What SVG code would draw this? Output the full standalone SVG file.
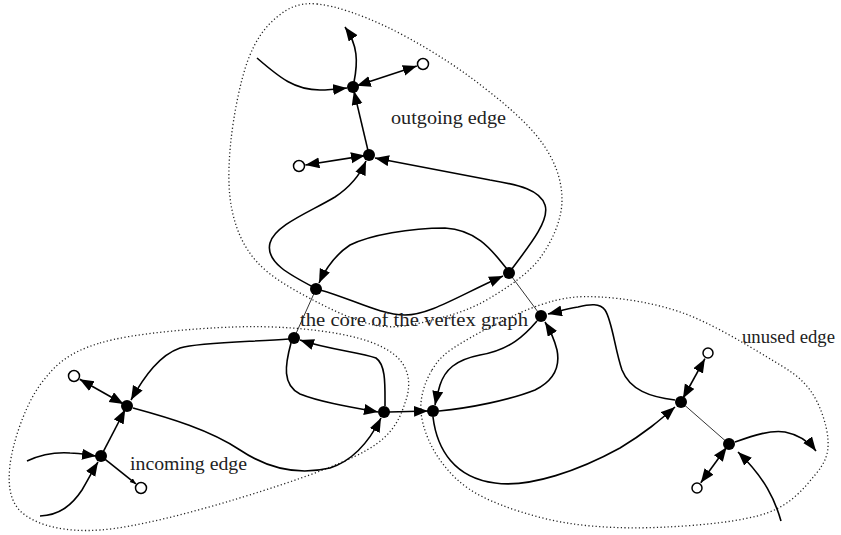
<svg xmlns="http://www.w3.org/2000/svg" width="841" height="535" viewBox="0 0 841 535">
<style>
.e{fill:none;stroke:#000;stroke-width:1.6;marker-end:url(#ah)}
.d{fill:none;stroke:#000;stroke-width:1.6;marker-start:url(#ah);marker-end:url(#ah)}
.t{fill:none;stroke:#000;stroke-width:0.8}
.blob{fill:none;stroke:#222;stroke-width:1.3;stroke-dasharray:1.2 2.4}
.n{fill:#000}
.o{fill:#fff;stroke:#000;stroke-width:1.5}
.lbl{font-family:"Liberation Serif","Times New Roman",serif;font-size:19.5px;fill:#222}
</style>
<defs>
<marker id="ah" markerUnits="userSpaceOnUse" markerWidth="15" markerHeight="12" refX="14" refY="5.5" orient="auto-start-reverse"><path d="M0,0 L14,5.5 L0,11 z" fill="#000"/></marker>
<marker id="sm" markerUnits="userSpaceOnUse" markerWidth="7" markerHeight="6" refX="6" refY="2.5" orient="auto"><path d="M0,0 L6,2.5 L0,5 z" fill="#000"/></marker>
</defs>
<g id="blobs">
<path class="blob" d="M317,4 C335.3,5.7 361.5,14.8 387,27 C412.5,39.2 444.5,58.2 470,77 C495.5,95.8 524.7,119.5 540,140 C555.3,160.5 562,180.3 562,200 C562,219.7 552,241.7 540,258 C528,274.3 506.7,288 490,298 C473.3,308 458.3,313.3 440,318 C421.7,322.7 401.2,329 380,326 C358.8,323 333.5,310.7 313,300 C292.5,289.3 270.5,277 257,262 C243.5,247 236.3,230.3 232,210 C227.7,189.7 228.3,165 231,140 C233.7,115 240.3,80.5 248,60 C255.7,39.5 265.5,26.3 277,17 C288.5,7.7 298.7,2.3 317,4 Z"/>
<path class="blob" d="M100,343 C132.2,333.3 193,328.5 233,327 C273,325.5 312.5,328.8 340,334 C367.5,339.2 387,347 398,358 C409,369 411.2,384.7 406,400 C400.8,415.3 395.8,433.3 367,450 C338.2,466.7 277.5,486.7 233,500 C188.5,513.3 134.7,527.5 100,530 C65.3,532.5 40,525.8 25,515 C10,504.2 7.5,486.7 10,465 C12.5,443.3 25,405.3 40,385 C55,364.7 67.8,352.7 100,343 Z"/>
<path class="blob" d="M432,370 C439,358.3 445,352.8 463,342 C481,331.2 517.2,312.5 540,305 C562.8,297.5 576.2,295.7 600,297 C623.8,298.3 655.2,303 683,313 C710.8,323 745.8,344.2 767,357 C788.2,369.8 799.8,376.2 810,390 C820.2,403.8 827.2,425.8 828,440 C828.8,454.2 825.2,462.8 815,475 C804.8,487.2 791.7,504.3 767,513 C742.3,521.7 700.3,525.3 667,527 C633.7,528.7 597.7,528 567,523 C536.3,518 504.2,507.5 483,497 C461.8,486.5 450.3,474.2 440,460 C429.7,445.8 422.3,427 421,412 C419.7,397 425,381.7 432,370 Z"/>
</g>
<g id="connectors">
<path class="e" d="M257,58 C280,78 295,90 320,90 C330,90 338,89 347,88"/>
<path class="e" d="M354,82 C358,62 358,45 345,27"/>
<path class="d" d="M356.8,85.8 L416.8,66"/>
<path class="e" d="M367.9,150.1 L353.9,90.9"/>
<path class="d" d="M365,155.6 L305.4,165"/>
<path class="e" d="M511,270 C530,245 550,220 545,205 C540,190 520,185 490,180 C450,172 410,165 375,158"/>
<path class="e" d="M315,288 C290,275 265,262 270,243 C275,225 310,212 335,197 C350,187 360,175 366,161"/>
<path class="e" d="M320,290 C350,298 380,315 405,315 C430,315 460,295 503,276"/>
<path class="e" d="M507,269 C495,255 480,230 445,228 C410,228 370,235 350,245 C335,255 325,270 319,283"/>
<path class="t" d="M316,289 L294,338"/>
<path class="t" d="M509,273 L541,316"/>
<path class="e" d="M289,339 C250,342 200,342 180,348 C160,355 145,375 131,400"/>
<path class="e" d="M291,343 C285,365 282,385 300,394 C320,402 350,407 378,412"/>
<path class="e" d="M385,406 C385,385 386,365 376,358 C360,352 330,350 300,340"/>
<path class="e" d="M133,408 C170,418 210,430 240,450 C270,470 300,475 330,468 C355,460 370,440 381,418"/>
<path class="d" d="M123.5,404 L79.7,379.2"/>
<path class="e" d="M103.3,451.6 L125.2,409.5"/>
<path class="e" d="M27,461 C40,455 55,452 70,453 C80,453 88,455 96,456"/>
<path class="e" d="M40,516 C60,515 72,505 82,490 C88,480 93,470 98,462"/>
<path fill="none" stroke="#000" stroke-width="1.6" marker-end="url(#sm)" d="M104.9,459.1 L135.9,483.9"/>
<path class="e" d="M389,412 L428,411"/>
<path class="e" d="M537,321 C525,335 510,350 480,355 C455,360 445,370 440,385 C437,395 436,400 435,405"/>
<path class="e" d="M439,411 C470,408 510,400 535,390 C555,380 560,365 557,350 C554,338 550,330 545,322"/>
<path class="e" d="M675,400 C650,397 630,390 622,370 C615,350 612,320 605,310 C600,303 590,304 578,307 C565,309 557,312 548,314"/>
<path class="e" d="M433,417 C437,450 455,478 495,483 C530,488 580,470 620,448 C645,433 660,420 675,407"/>
<path class="d" d="M682.9,398.5 L704.9,358.7"/>
<path class="t" d="M681,402 L729,444"/>
<path class="d" d="M726.6,447.2 L700.8,482.7"/>
<path class="e" d="M735,442 C755,435 770,430 785,432 C800,435 810,443 816,451"/>
<path class="e" d="M781,521 C775,500 765,478 738,452"/>
</g>
<g id="nodes">
<g id="A"><circle class="n" cx="353" cy="87" r="6"/></g>
<g id="B"><circle class="n" cx="369" cy="155" r="6"/></g>
<g id="C1"><circle class="n" cx="316" cy="289" r="6"/></g>
<g id="C2"><circle class="n" cx="509" cy="273" r="6"/></g>
<g id="D"><circle class="n" cx="294" cy="338" r="6"/></g>
<g id="E"><circle class="n" cx="384" cy="412" r="6"/></g>
<g id="F"><circle class="n" cx="127" cy="406" r="6"/></g>
<g id="G"><circle class="n" cx="101" cy="456" r="6"/></g>
<g id="H"><circle class="n" cx="433" cy="411" r="6"/></g>
<g id="I"><circle class="n" cx="541" cy="316" r="6"/></g>
<g id="J"><circle class="n" cx="681" cy="402" r="6"/></g>
<g id="K"><circle class="n" cx="729" cy="444" r="6"/></g>
<g id="oA"><circle class="o" cx="423" cy="64" r="5.5"/></g>
<g id="oB"><circle class="o" cx="299" cy="166" r="5.5"/></g>
<g id="oF"><circle class="o" cx="74" cy="376" r="5.5"/></g>
<g id="oG"><circle class="o" cx="141" cy="488" r="5.5"/></g>
<g id="oJ"><circle class="o" cx="708" cy="353" r="5"/></g>
<g id="oK"><circle class="o" cx="697" cy="488" r="5"/></g>
</g>
<g id="labels">
<text class="lbl" x="391" y="124" textLength="115" lengthAdjust="spacingAndGlyphs">outgoing edge</text>
<text class="lbl" x="300" y="326" textLength="228" lengthAdjust="spacingAndGlyphs">the core of the vertex graph</text>
<text class="lbl" x="742" y="343" textLength="93" lengthAdjust="spacingAndGlyphs">unused edge</text>
<text class="lbl" x="130" y="470" textLength="117" lengthAdjust="spacingAndGlyphs">incoming edge</text>
</g>
</svg>
